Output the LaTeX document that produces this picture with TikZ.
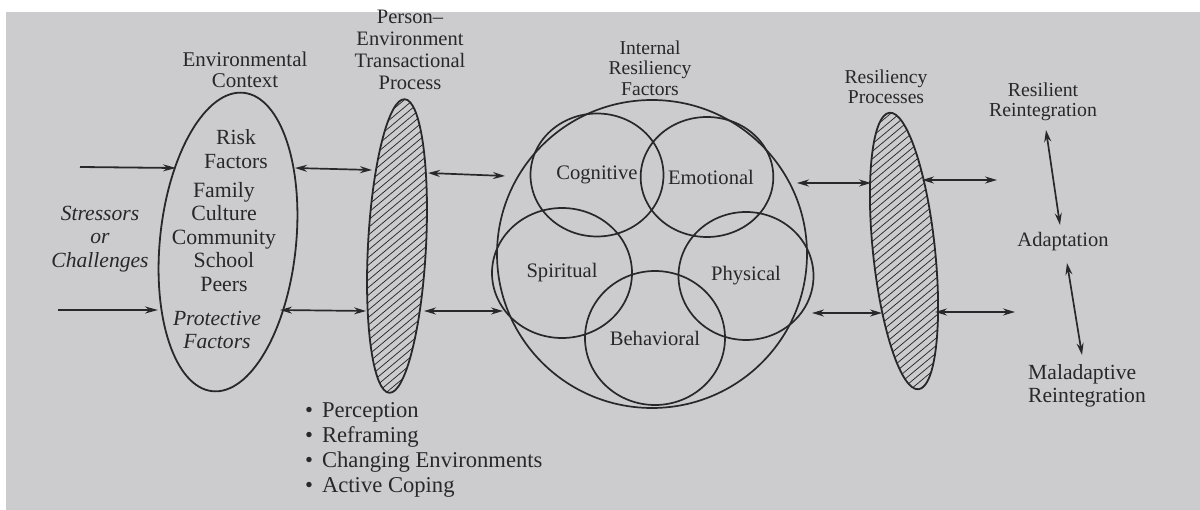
\documentclass[tikz,border=0pt]{standalone}
\usepackage{fontspec}
\setmainfont{Liberation Serif}
\usetikzlibrary{shapes.geometric,arrows.meta}
\definecolor{paper}{RGB}{204,204,207}
\definecolor{ink}{RGB}{40,40,42}
\tikzset{
  lbl/.style={text=ink, font=\fontsize{21}{23}\selectfont, align=center, inner sep=0pt},
  ilbl/.style={lbl, font=\fontsize{21.6}{23.5}\selectfont\itshape},
  shp/.style={draw=ink, line width=1.8pt, ellipse, inner sep=0pt},
  circ/.style={draw=ink, line width=1.7pt, ellipse, inner sep=0pt, text=ink, font=\fontsize{20.6}{23}\selectfont},
  arr/.style={draw=ink, line width=1.8pt, -{Stealth[length=13pt,width=7pt]}},
  dbl/.style={draw=ink, line width=1.7pt, {Stealth[length=12pt,width=7pt]}-{Stealth[length=12pt,width=7pt]}},
  hatchline/.style={draw=ink, line width=0.75pt},
}
\begin{document}
\begin{tikzpicture}[x=1pt,y=-1pt]
\useasboundingbox (0,0) rectangle (1200,510);
\fill[white] (0,0) rectangle (1200,510);
\fill[paper] (6,12) rectangle (1200,510);

% ---------- headings ----------
\node[lbl, font=\fontsize{21}{21}\selectfont] (envhead) at (245,70) {Environmental\\Context};
\node[lbl, font=\fontsize{20.5}{22}\selectfont] (ptphead) at (410,50) {Person--\\Environment\\Transactional\\Process};
\node[lbl, font=\fontsize{19.6}{20.5}\selectfont] (irfhead) at (650,68) {Internal\\Resiliency\\Factors};
\node[lbl, font=\fontsize{19.6}{20}\selectfont] (rphead) at (886,87) {Resiliency\\Processes};

% ---------- stressors ----------
\node[ilbl] (stress) at (100,239) {Stressors\\or\\Challenges};

% ---------- environmental context ellipse ----------
\node[shp, minimum width=136pt, minimum height=300pt, rotate=-6] (env) at (228,242) {};
\node[lbl, font=\fontsize{21.6}{23.5}\selectfont] (risk) at (236,149) {Risk\\Factors};
\node[lbl, font=\fontsize{21.8}{23.5}\selectfont] (family) at (224,237) {Family\\Culture\\Community\\School\\Peers};
\node[ilbl] (protect) at (217,330) {Protective\\Factors};

% ---------- person-environment hatched ellipse ----------
\begin{scope}
  \clip[rotate around={-3:(397,246)}] (397,246) ellipse [x radius=29pt, y radius=147pt];
  \foreach \k in {0,...,54} \draw[hatchline] (360,92+7.5*\k) -- ++(80,-67);
\end{scope}
\node[shp, minimum width=58pt, minimum height=294pt, rotate=-3] (ptp) at (397,246) {};

% ---------- bullet list ----------
\node[lbl, anchor=west, align=left, font=\fontsize{22.6}{25.3}\selectfont] (list) at (305,450)
  {\textbullet\hspace{9pt}Perception\\\textbullet\hspace{9pt}Reframing\\\textbullet\hspace{9pt}Changing Environments\\\textbullet\hspace{9pt}Active Coping};

% ---------- internal resiliency factors ----------
\node[circ, minimum width=310pt, minimum height=308pt] (irf) at (652,254) {};
\node[circ, minimum width=133pt, minimum height=123pt] (cog) at (597,175) {Cognitive};
\node[circ, minimum width=130pt, minimum height=120pt] (emo) at (707,177) {\hspace{8pt}Emotional};
\node[circ, minimum width=140pt, minimum height=130pt] (spi) at (562,273) {Spiritual};
\node[circ, minimum width=135pt, minimum height=128pt] (phy) at (746,276) {Physical};
\node[circ, minimum width=140pt, minimum height=134pt] (beh) at (655,338) {Behavioral};

% ---------- resiliency processes hatched ellipse ----------
\begin{scope}
  \clip[rotate around={6:(904,251)}] (904,251) ellipse [x radius=31pt, y radius=139pt];
  \foreach \k in {0,...,52} \draw[hatchline] (862,100+7.5*\k) -- ++(85,-71);
\end{scope}
\node[shp, minimum width=62pt, minimum height=278pt, rotate=6] (rp) at (904,251) {};

% ---------- outcomes ----------
\node[lbl, font=\fontsize{19.8}{20}\selectfont] (rr) at (1043,102) {Resilient\\Reintegration};
\node[lbl, font=\fontsize{20.5}{20}\selectfont] (ad) at (1063,242) {Adaptation};
\node[lbl, anchor=west, align=left, font=\fontsize{21.6}{23}\selectfont] (mr) at (1028,386) {Maladaptive\\Reintegration};

% ---------- arrow end points ----------
\coordinate (inA) at (80,167);   \coordinate (envA) at (176,168);
\coordinate (inB) at (58,310);   \coordinate (envB) at (158,310);
\coordinate (envC) at (295,168); \coordinate (ptpA) at (372,170);
\coordinate (envD) at (280,310); \coordinate (ptpB) at (366,311);
\coordinate (ptpC) at (428,173); \coordinate (irfA) at (505,176);
\coordinate (ptpD) at (424,311); \coordinate (irfB) at (503,311);
\coordinate (irfC) at (797,183); \coordinate (rpA) at (871,183);
\coordinate (irfD) at (812,313); \coordinate (rpB) at (882,313);
\coordinate (rpC) at (922,180);  \coordinate (outA) at (997,180);
\coordinate (rpD) at (935,312);  \coordinate (outB) at (1015,312);
\coordinate (rrS) at (1046,130); \coordinate (adN) at (1060,225);
\coordinate (adS) at (1067,263); \coordinate (mrN) at (1082,355);

% ---------- connectors ----------
\draw[arr] (inA) -- (envA);
\draw[arr] (inB) -- (envB);
\draw[dbl] (envC) -- (ptpA);
\draw[dbl] (envD) -- (ptpB);
\draw[dbl] (ptpC) -- (irfA);
\draw[dbl] (ptpD) -- (irfB);
\draw[dbl] (irfC) -- (rpA);
\draw[dbl] (irfD) -- (rpB);
\draw[dbl] (rpC) -- (outA);
\draw[dbl] (rpD) -- (outB);
\draw[dbl] (rrS) -- (adN);
\draw[dbl] (adS) -- (mrN);
\end{tikzpicture}
\end{document}
